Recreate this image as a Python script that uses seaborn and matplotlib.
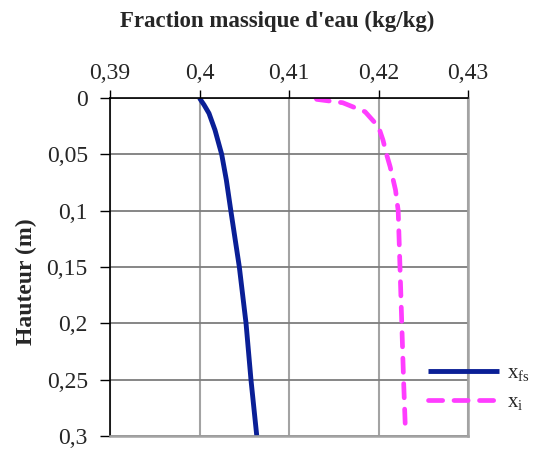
import numpy as np
import pandas as pd
import matplotlib
matplotlib.use("Agg")
import matplotlib.pyplot as plt
import seaborn as sns
from matplotlib.ticker import FixedLocator, FuncFormatter

# Data
height_fs = [0.0, 0.0025, 0.006, 0.0136, 0.0284, 0.05, 0.0728, 0.1, 0.15, 0.2, 0.25, 0.3]
x_fs = [0.4000, 0.4002, 0.4005, 0.40106, 0.40173, 0.40248, 0.4030, 0.4035, 0.40445, 0.4052, 0.40575, 0.4064]

height_i = [0.0, 0.0012, 0.0042, 0.0122, 0.0255, 0.0373, 0.05, 0.061, 0.0816, 0.1, 0.15, 0.2, 0.25, 0.293]
x_i = [0.4130, 0.4131, 0.4160, 0.4185, 0.4200, 0.4205, 0.4209, 0.4213, 0.4219, 0.4222, 0.4224, 0.4226, 0.4228, 0.4230]

x_ticks = [0.39, 0.40, 0.41, 0.42, 0.43]
y_ticks = [0.0, 0.05, 0.10, 0.15, 0.20, 0.25, 0.30]

title = "Fraction massique d'eau (kg/kg)"
ylabel = "Hauteur (m)"

sns.set_style("white")
plt.rcParams['font.family'] = ['Liberation Serif', 'DejaVu Serif']
plt.rcParams['mathtext.fontset'] = 'custom'
plt.rcParams['mathtext.rm'] = 'Liberation Serif'
plt.rcParams['mathtext.it'] = 'Liberation Serif'

fig = plt.figure(figsize=(5.37, 4.49), dpi=100)
ax = fig.add_axes([110/537, 1-436/449, (468-110)/537, (436-98)/449])

df_fs = pd.DataFrame({"x": x_fs, "h": height_fs})
df_i = pd.DataFrame({"x": x_i, "h": height_i})

sns.lineplot(data=df_fs, x="x", y="h", sort=False, ax=ax, color="#0a1f96",
             linewidth=3.5, label=r"$\mathregular{x_{fs}}$", solid_capstyle='butt')
sns.lineplot(data=df_i, x="x", y="h", sort=False, ax=ax, color="#ff3dff",
             linewidth=3.4, label=r"$\mathregular{x_{i}}$", dashes=False)
ax.lines[1].set_dashes([3.0, 2.4])
ax.lines[1].set_dash_capstyle('round')

ax.set_xlim(0.39, 0.43)
ax.set_ylim(0.3, 0.0)
ax.xaxis.set_major_locator(FixedLocator(x_ticks))
ax.yaxis.set_major_locator(FixedLocator(y_ticks))
fmt = FuncFormatter(lambda v, p: f"{round(v, 4):g}".replace('.', ','))
ax.xaxis.set_major_formatter(fmt)
ax.yaxis.set_major_formatter(fmt)
ax.xaxis.tick_top()
ax.xaxis.set_label_position('top')
ax.tick_params(axis='x', which='both', top=True, bottom=False, length=6, width=1,
               direction='out', pad=4, labelsize=17, color='black')
ax.tick_params(axis='y', left=True, length=7, width=1, direction='out', pad=9,
               labelsize=17, color='black')

ax.xaxis.grid(True, color='#a3a3a3', linewidth=1.5)
ax.yaxis.grid(True, color='#7d7d7d', linewidth=1.3)
ax.set_axisbelow(True)
for s in ['top', 'left']:
    ax.spines[s].set_color('black')
    ax.spines[s].set_linewidth(1.2)
for s in ['right', 'bottom']:
    ax.spines[s].set_color('#a3a3a3')
    ax.spines[s].set_linewidth(1.8)

ax.set_xlabel("")
ax.set_ylabel("")
fig.text(26/537, 1-282/449, ylabel, ha='center', va='center', rotation=90,
         fontsize=17, fontweight='bold')
fig.text(277/537, 1-21/449, title, ha='center', va='center', fontsize=16.5, fontweight='bold')

leg = ax.legend(loc='center left', bbox_to_anchor=(428/537, 1-388/449),
                bbox_transform=fig.transFigure, frameon=False, fontsize=15,
                handlelength=3.4, handletextpad=0.38, labelspacing=0.45,
                borderpad=0, borderaxespad=0)

fig.savefig("out.png", dpi=100)
